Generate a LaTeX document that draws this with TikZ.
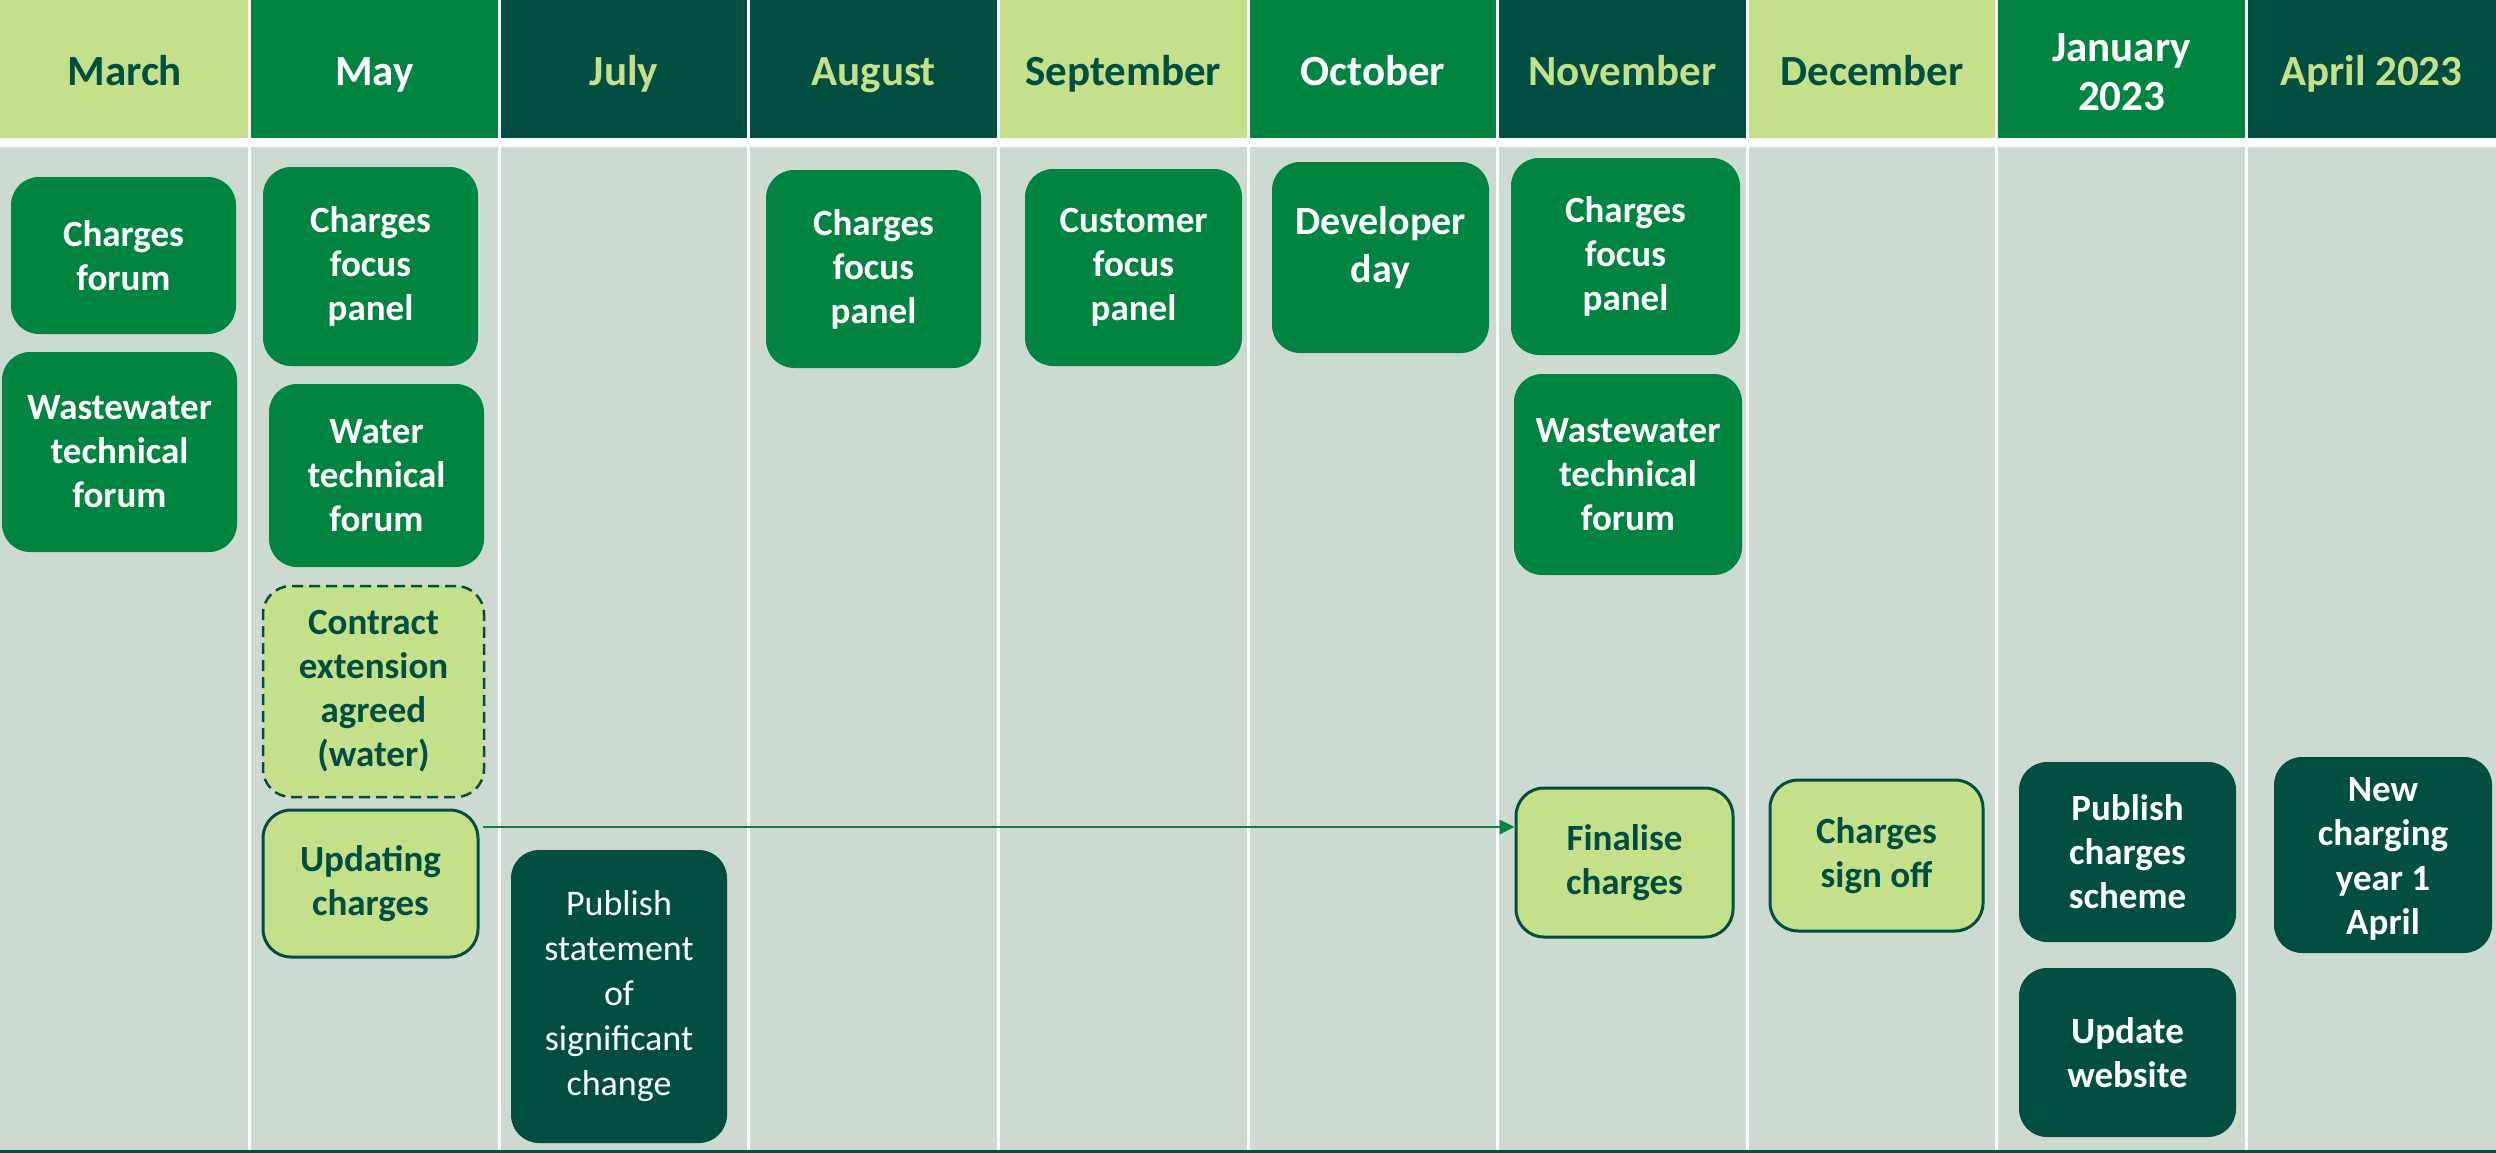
\documentclass[tikz,border=0pt]{standalone}
\usepackage{fontspec}
\setmainfont{Carlito}
\usetikzlibrary{arrows.meta}
\definecolor{lg}{HTML}{C5E08A}
\definecolor{mg}{HTML}{00843F}
\definecolor{dg}{HTML}{024F41}
\definecolor{bgc}{HTML}{CDDAD0}
\begin{document}
\begin{tikzpicture}[x=1pt,y=-1pt,
  hdr/.style={align=center,inner sep=0pt,anchor=base,font=\fontsize{43}{49.5}\selectfont\bfseries},
  box/.style={rectangle,rounded corners=28pt,align=center,inner sep=0pt,font=\fontsize{37}{44}\selectfont\bfseries},
  mbox/.style={box,fill=mg,text=white},
  dbox/.style={box,fill=dg,text=white},
  lbox/.style={box,fill=lg,draw=dg,line width=3pt,text=dg},
  cbox/.style={box,fill=lg,draw=dg,line width=2.5pt,dash pattern=on 11pt off 6pt,text=dg},
  sep/.style={white,line width=3pt}]
\useasboundingbox (0,0) rectangle (2496,1153);
\fill[white] (0,0) rectangle (2496,1153);
\fill[bgc] (0,147) rectangle (2496,1150);
\fill[dg] (0,1150) rectangle (2496,1153);
% header cells
\foreach \i/\c in {0/lg,1/mg,2/dg,3/dg,4/lg,5/mg,6/dg,7/lg,8/mg,9/dg}{
  \fill[\c] ({249.6*\i},0) rectangle ({249.6*(\i+1)},138);
}
\foreach \i in {1,...,9}{
  \draw[sep] ({249.6*\i},0) -- ({249.6*\i},1150);
}
% header labels
\node[hdr,text=dg] (hMar) at (124.8,85.5) {March};
\node[hdr,text=white] (hMay) at (374.4,85.5) {May};
\node[hdr,text=lg] (hJul) at (624.0,85.5) {July};
\node[hdr,text=lg] (hAug) at (873.6,85.5) {August};
\node[hdr,text=dg] (hSep) at (1123.2,85.5) {September};
\node[hdr,text=white] (hOct) at (1372.8,85.5) {October};
\node[hdr,text=lg] (hNov) at (1622.4,85.5) {November};
\node[hdr,text=dg] (hDec) at (1872.0,85.5) {December};
\node[hdr,text=white] (hJan) at (2121.6,111) {January\\2023};
\node[hdr,text=lg] (hApr) at (2371.2,85.5) {April 2023};
% boxes
\node[mbox,minimum width=225pt,minimum height=157pt] (cf1) at (123.5,255.5) {Charges\\forum};
\node[mbox,minimum width=235pt,minimum height=200pt] (ww1) at (119.5,452) {Wastewater\\technical\\forum};
\node[mbox,minimum width=215pt,minimum height=199pt] (cfp1) at (370.5,266.5) {Charges\\focus\\panel};
\node[mbox,minimum width=215pt,minimum height=183pt] (wtf) at (376.5,475.5) {Water\\technical\\forum};
\node[cbox,minimum width=221pt,minimum height=211pt] (cea) at (373.5,691.5) {Contract\\extension\\agreed\\(water)};
\node[lbox,minimum width=215pt,minimum height=147pt] (upd) at (370.5,883.5) {Updating\\charges};
\node[dbox,minimum width=216pt,minimum height=293pt,font=\fontsize{36}{45}\selectfont] (pss) at (619,996.5) {Publish\\statement\\of\\significant\\change};
\node[mbox,minimum width=215pt,minimum height=198pt] (cfp2) at (873.5,269) {Charges\\focus\\panel};
\node[mbox,minimum width=217pt,minimum height=197pt] (cust) at (1133.5,267.5) {Customer\\focus\\panel};
\node[mbox,minimum width=217pt,minimum height=191pt] (dev) at (1380.5,257.5) {};
\node[align=center,inner sep=0pt,text=white,font=\fontsize{40}{48}\selectfont\bfseries] (devt) at ([yshift=10pt]dev.center) {Developer\\day};
\node[mbox,minimum width=229pt,minimum height=197pt] (cfp3) at (1625.5,256.5) {Charges\\focus\\panel};
\node[mbox,minimum width=228pt,minimum height=201pt] (ww2) at (1628,474.5) {Wastewater\\technical\\forum};
\node[lbox,minimum width=217pt,minimum height=149pt] (fin) at (1624.5,862.5) {Finalise\\charges};
\node[lbox,minimum width=213pt,minimum height=151pt] (cso) at (1876.5,855.5) {Charges\\sign off};
\node[dbox,minimum width=217pt,minimum height=180pt] (pcs) at (2127.5,852) {Publish\\charges\\scheme};
\node[dbox,minimum width=217pt,minimum height=169pt] (upw) at (2127.5,1052.5) {Update\\website};
\node[dbox,minimum width=218pt,minimum height=196pt] (ncy) at (2383,855) {};
\node[align=center,inner sep=0pt,text=white,font=\fontsize{37}{44.5}\selectfont\bfseries] (ncyt) at ([yshift=-4pt]ncy.center) {New\\charging\\year 1\\April};
% connector
\draw[mg,line width=2.7pt,-{Triangle[length=15pt,width=14pt]}] ([xshift=3pt]upd.east |- 0,827) -- (fin.west |- 0,827);
\end{tikzpicture}
\end{document}
